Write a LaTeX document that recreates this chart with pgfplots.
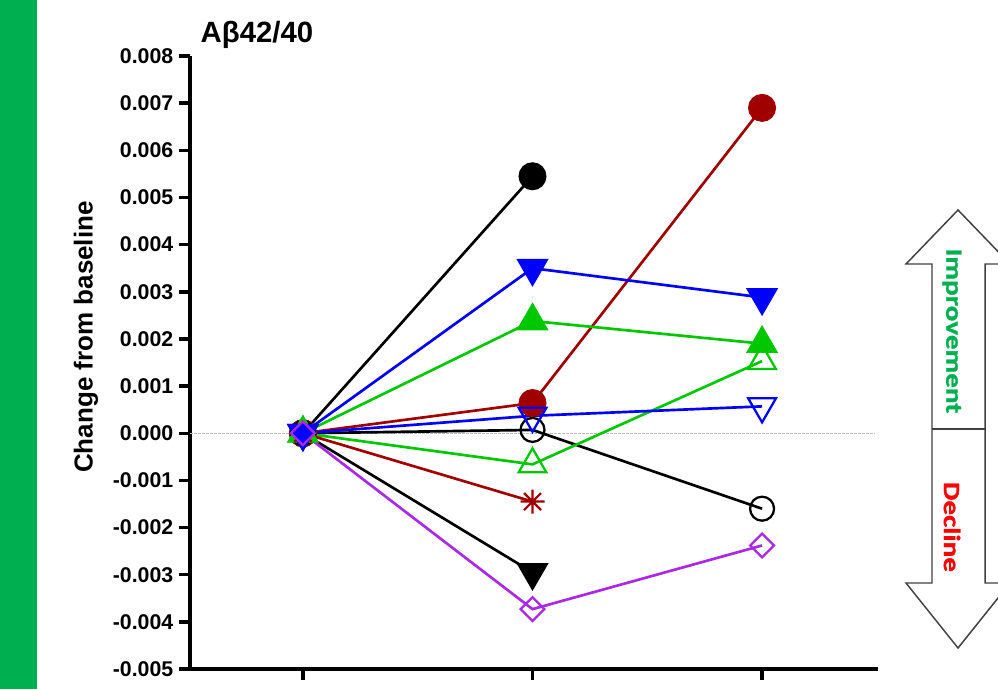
\documentclass[border=0pt]{standalone}
\usepackage{fontspec}
\setmainfont{Liberation Sans}
\newfontfamily\arrowfont[FakeStretch=1.25,FakeBold=1.2]{Carlito}
\usepackage{pgfplots}
\pgfplotsset{compat=1.18}

\definecolor{barGreen}{RGB}{0,176,80}
\definecolor{serGreen}{RGB}{0,200,0}
\definecolor{serRed}{RGB}{160,0,0}
\definecolor{serBlue}{RGB}{0,0,255}
\definecolor{serPurple}{RGB}{170,40,230}
\definecolor{arrowGray}{RGB}{64,64,64}

% eight-armed asterisk
\pgfdeclareplotmark{star8}{%
  \pgfpathmoveto{\pgfqpoint{0pt}{\pgfplotmarksize}}%
  \pgfpathlineto{\pgfqpoint{0pt}{-\pgfplotmarksize}}%
  \pgfpathmoveto{\pgfqpoint{\pgfplotmarksize}{0pt}}%
  \pgfpathlineto{\pgfqpoint{-\pgfplotmarksize}{0pt}}%
  \pgfpathmoveto{\pgfqpoint{.707\pgfplotmarksize}{.707\pgfplotmarksize}}%
  \pgfpathlineto{\pgfqpoint{-.707\pgfplotmarksize}{-.707\pgfplotmarksize}}%
  \pgfpathmoveto{\pgfqpoint{.707\pgfplotmarksize}{-.707\pgfplotmarksize}}%
  \pgfpathlineto{\pgfqpoint{-.707\pgfplotmarksize}{.707\pgfplotmarksize}}%
  \pgfusepathqstroke}

\begin{document}
\begin{tikzpicture}
\clip (0pt,0pt) rectangle (748.5pt,-516.75pt);

% decorations, in pixel units (y downwards)
\begin{scope}[x=0.75pt,y=-0.75pt]
  \fill[barGreen] (0,0) rectangle (37,689);
  \node[anchor=base west,font=\bfseries\fontsize{22}{24}\selectfont] at (196,42) {Aβ42/40};
  \node[rotate=90,font=\bfseries\fontsize{19.5}{22}\selectfont] at (86,337) {Change from baseline};
  % double arrow
  \draw[arrowGray,line width=1.1pt,line join=miter]
    (958,210) -- (1010,264) -- (985,264) -- (985,583) -- (1010,583) -- (958,648)
    -- (906,583) -- (932,583) -- (932,264) -- (906,264) -- cycle;
  \draw[arrowGray,line width=1.1pt] (932,429) -- (985,429);
  \node[rotate=-90,text=barGreen,font=\arrowfont\bfseries\fontsize{17.5}{20}\selectfont] at (952,331) {Improvement};
  \node[rotate=-90,text=red,font=\arrowfont\bfseries\fontsize{17.5}{20}\selectfont] at (952,527) {Decline};
\end{scope}

\begin{axis}[
  at={(142.5pt,-501.75pt)}, anchor=south west,
  scale only axis, width=516pt, height=459.75pt,
  xmin=-0.492, xmax=2.505, ymin=-0.005, ymax=0.008,
  axis x line*=bottom, axis y line*=left,
  axis line style={line width=2.6pt,-},
  xtick={0,1,2}, xticklabels={,,},
  ytick={-0.005,-0.004,-0.003,-0.002,-0.001,0,0.001,0.002,0.003,0.004,0.005,0.006,0.007,0.008},
  scaled y ticks=false,
  tick align=outside, major tick length=8pt,
  every tick/.style={black,line width=2.6pt},
  yticklabel style={font=\bfseries\fontsize{16}{17}\selectfont, xshift=-1pt},
  /pgf/number format/.cd, fixed, fixed zerofill, precision=3, assume math mode=true,
  /pgfplots/.cd,
  clip=false,
  every axis plot/.append style={line width=2pt},
]
% zero reference line
\addplot[densely dotted, black!25, line width=0.8pt, mark=none] coordinates {(-0.49,0) (2.49,0)};

\addplot[black, mark=*, mark size=9.5pt] coordinates {(0,0) (1,0.00545)};
\addplot[serRed, mark=*, mark size=9.5pt] coordinates {(0,0) (1,0.00064) (2,0.0069)};
\addplot[black, mark=o, mark size=9pt, mark options={line width=1.7pt}] coordinates {(0,0) (1,0.00007) (2,-0.0016)};
\addplot[serGreen, mark=triangle*, mark size=12pt] coordinates {(0,0) (1,0.00238) (2,0.0019)};
\addplot[serGreen, mark=triangle, mark size=12pt, mark options={line width=1.7pt}] coordinates {(0,0) (1,-0.00066) (2,0.00153)};
\addplot[serBlue, mark=triangle, mark size=12pt, mark options={rotate=180,line width=1.7pt}] coordinates {(0,0) (1,0.00037) (2,0.00057)};
\addplot[black, mark=triangle*, mark size=12pt, mark options={rotate=180}] coordinates {(0,0) (1,-0.00295)};
\addplot[serRed, mark=star8, mark size=9pt, mark options={line width=1.7pt}] coordinates {(0,0) (1,-0.00145)};
\addplot[serBlue, mark=triangle*, mark size=12pt, mark options={rotate=180}] coordinates {(0,0) (1,0.0035) (2,0.00288)};
\addplot[serPurple, mark=square, mark size=6.3pt, mark options={rotate=45,line width=1.7pt}] coordinates {(0,0) (1,-0.00373) (2,-0.00238)};
\end{axis}
\end{tikzpicture}
\end{document}
